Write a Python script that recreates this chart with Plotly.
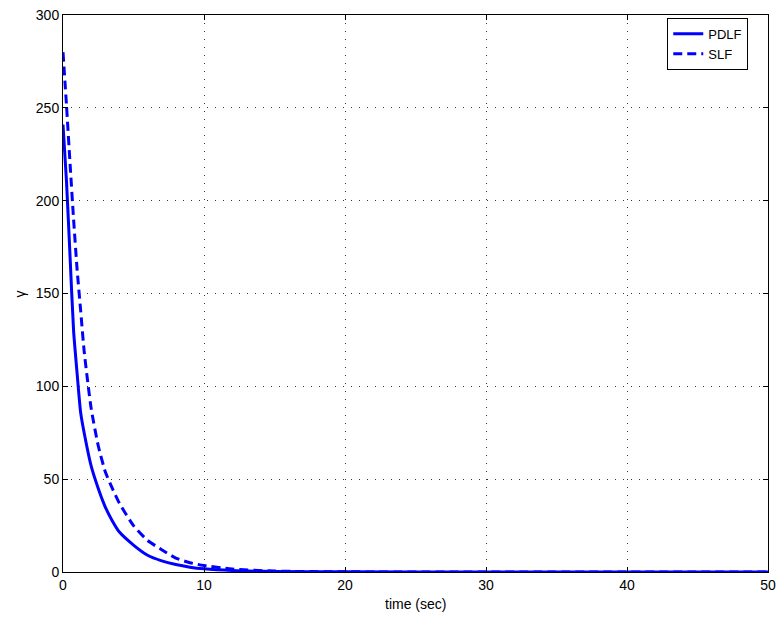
import plotly.graph_objects as go

t_pdlf = [0, 0.25, 0.5, 0.75, 1, 1.25, 1.5, 2, 2.5, 3, 3.5, 4, 5, 6, 7, 8, 9, 10, 12, 15, 20, 30, 50]
pdlf = [241, 210, 170, 130, 107, 86, 75, 57, 45, 35, 27.5, 21.5, 14.5, 9, 6, 4, 2.6, 1.7, 0.8, 0.3, 0.1, 0.02, 0]

t_slf = [0, 0.25, 0.5, 0.75, 1, 1.25, 1.5, 2, 2.5, 3, 3.5, 4, 5, 6, 7, 8, 9, 10, 12, 15, 20, 30, 50]
slf = [280, 251, 220, 190, 163, 141, 119, 88, 68, 54, 45, 37, 25, 17, 12, 7.5, 5, 3.5, 1.6, 0.5, 0.1, 0.02, 0]

x_ticks = [0, 10, 20, 30, 40, 50]
y_ticks = [0, 50, 100, 150, 200, 250, 300]

fig = go.Figure()
fig.add_trace(go.Scatter(x=t_pdlf, y=pdlf, mode="lines", name="PDLF",
                         line=dict(color="#0000ff", width=3, shape="spline", smoothing=0.6)))
fig.add_trace(go.Scatter(x=t_slf, y=slf, mode="lines", name="SLF",
                         line=dict(color="#0000ff", width=3, dash="9px,5px",
                                   shape="spline", smoothing=0.6)))

axis_common = dict(showline=True, linecolor="black", linewidth=1, mirror="ticks",
                   ticks="inside", ticklen=5, tickcolor="black", automargin=False,
                   showgrid=True, gridcolor="#333333", griddash="1px,7px", gridwidth=1,
                   zeroline=False, tickfont=dict(size=14, color="black",
                                                 family="Liberation Sans, Arial, sans-serif"))

fig.update_layout(
    width=780, height=619,
    margin=dict(l=63, r=12, t=15, b=47),
    paper_bgcolor="white", plot_bgcolor="white",
    font=dict(family="Liberation Sans, Arial, sans-serif", size=14, color="black"),
    xaxis=dict(range=[0, 50], tickvals=x_ticks, **axis_common),
    yaxis=dict(range=[0, 300], tickvals=y_ticks, **axis_common),
    legend=dict(x=0.972, y=0.995, xanchor="right", yanchor="top",
                bordercolor="black", borderwidth=1, bgcolor="white",
                font=dict(size=13), tracegroupgap=0, itemwidth=30),
    showlegend=True,
    annotations=[
        dict(text="time (sec)", xref="paper", yref="paper", x=0.5, y=-0.058,
             xanchor="center", yanchor="middle", showarrow=False, font=dict(size=14)),
        dict(text="γ", xref="paper", yref="paper", x=-0.061, y=0.5,
             xanchor="center", yanchor="middle", showarrow=False, textangle=-90,
             font=dict(size=14)),
    ],
)

fig.write_html("out.html", config={"displayModeBar": False},
               post_script="document.body.style.margin='0px';document.body.style.overflow='hidden';")
